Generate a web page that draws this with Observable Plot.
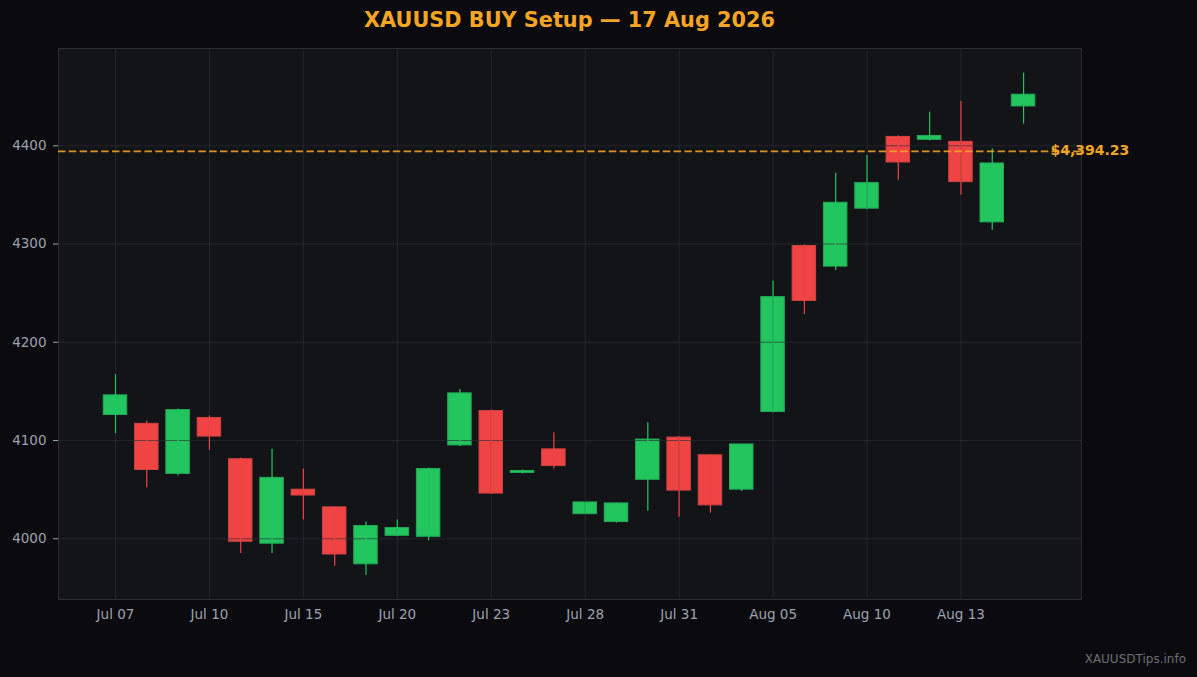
<!DOCTYPE html>
<html>
<head>
<meta charset="utf-8">
<script src="https://cdn.jsdelivr.net/npm/d3@7"></script>
<script src="https://cdn.jsdelivr.net/npm/@observablehq/plot@0.6"></script>
<style>
  html, body { margin: 0; padding: 0; background: #0b0b0f; }
  #wrap { position: relative; width: 1197px; height: 677px; overflow: hidden; background: #0b0b0f; }
  #title { position: absolute; left: 0; width: 1139px; top: 8px; line-height: 24px; text-align: center;
           font-family: "DejaVu Sans", sans-serif; font-weight: bold; font-size: 20.8px; color: #f5a524; }
  #footer { position: absolute; right: 11px; top: 652px; line-height: 14px;
            font-family: "DejaVu Sans", sans-serif; font-size: 12px; color: #6b6e76; }
  #chart { position: absolute; left: 0; top: 0; }
</style>
</head>
<body>
<div id="wrap">
  <div id="chart"></div>
  <div id="title">XAUUSD BUY Setup — 17 Aug 2026</div>
  <div id="footer">XAUUSDTips.info</div>
</div>
<script>
const dates = ["Jul 07","Jul 08","Jul 09","Jul 10","Jul 13","Jul 14","Jul 15","Jul 16","Jul 17","Jul 20",
               "Jul 21","Jul 22","Jul 23","Jul 24","Jul 27","Jul 28","Jul 29","Jul 30","Jul 31","Aug 03",
               "Aug 04","Aug 05","Aug 06","Aug 07","Aug 10","Aug 11","Aug 12","Aug 13","Aug 14","Aug 17"];
const opens  = [4126,4117,4066,4123,4081,3995,4050,4032,3974,4003,4002,4095,4130,4067,4091,4025,4017,4060,4103,4085,4050,4129,4298,4277,4336,4409,4406,4404,4322,4440];
const highs  = [4167,4120,4132,4125,4082,4091,4071,4032,4017,4019,4072,4152,4131,4070,4108,4037,4036,4118,4104,4085,4096,4262,4299,4372,4390,4410,4434,4445,4397,4474];
const lows   = [4107,4052,4064,4090,3985,3985,4019,3972,3963,4002,3998,4094,4045,4066,4071,4025,4016,4028,4022,4026,4048,4128,4228,4273,4335,4365,4405,4350,4314,4422];
const closes = [4146,4070,4131,4104,3997,4062,4044,3984,4013,4011,4071,4148,4046,4069,4074,4037,4036,4101,4049,4034,4096,4246,4242,4342,4362,4383,4410,4363,4382,4452];
const xTickIndex = [0,3,6,9,12,15,18,21,24,27];
const yTicks = [4000,4100,4200,4300,4400];
const entryLevel = 4394.23;
const entryLabel = "$4,394.23";

const candles = dates.map((d, i) => ({i, date: d, open: opens[i], high: highs[i], low: lows[i], close: closes[i], up: closes[i] >= opens[i]}));
const UP = "#22c55e", DOWN = "#ef4444";
const UP_EDGE = "#23a856", DOWN_EDGE = "#cf4242";
const ORANGE = "#f5a524";
const gridColor = "#2c2f36";

const chart = Plot.plot({
  width: 1197,
  height: 677,
  marginLeft: 58,
  marginRight: 116,
  marginTop: 48,
  marginBottom: 78,
  style: { background: "transparent", color: "#9ca3af", fontFamily: "'DejaVu Sans', sans-serif", fontSize: "13.5px" },
  x: { type: "linear", domain: [-1.82, 30.85] },
  y: { domain: [3938.2, 4499] },
  marks: [
    Plot.frame({ fill: "#121418", stroke: null }),
    Plot.rect(candles, {
      x1: d => d.i - 0.375, x2: d => d.i + 0.375,
      y1: "open", y2: "close",
      fill: d => d.up ? UP : DOWN,
      stroke: d => d.up ? UP_EDGE : DOWN_EDGE,
      strokeWidth: 1
    }),
    Plot.ruleX(xTickIndex, { stroke: gridColor, strokeOpacity: 0.65, strokeWidth: 1 }),
    Plot.ruleY(yTicks, { stroke: gridColor, strokeOpacity: 0.65, strokeWidth: 1 }),
    Plot.ruleX(candles, {
      x: "i", y1: "low", y2: "high",
      stroke: d => d.up ? UP : DOWN,
      strokeWidth: 1.2
    }),
    Plot.frame({ stroke: "#2c2e35", strokeWidth: 1 }),
    Plot.text([entryLabel], {
      y: () => entryLevel, frameAnchor: "right", dx: -31, dy: -1,
      text: d => d, textAnchor: "start", fill: ORANGE, fontWeight: "bold", fontSize: 14
    }),
    Plot.ruleY([entryLevel], { stroke: ORANGE, strokeOpacity: 0.88, strokeWidth: 1.8, strokeDasharray: "7.5,3.3" }),
    Plot.axisY({ ticks: yTicks, tickSize: 5, tickPadding: 7, tickFormat: d => String(d), label: null, stroke: "#9ca3af" }),
    Plot.axisX({ ticks: xTickIndex, tickSize: 0, tickPadding: 10, tickFormat: i => dates[i], label: null })
  ]
});
document.getElementById("chart").appendChild(chart);
</script>
</body>
</html>
